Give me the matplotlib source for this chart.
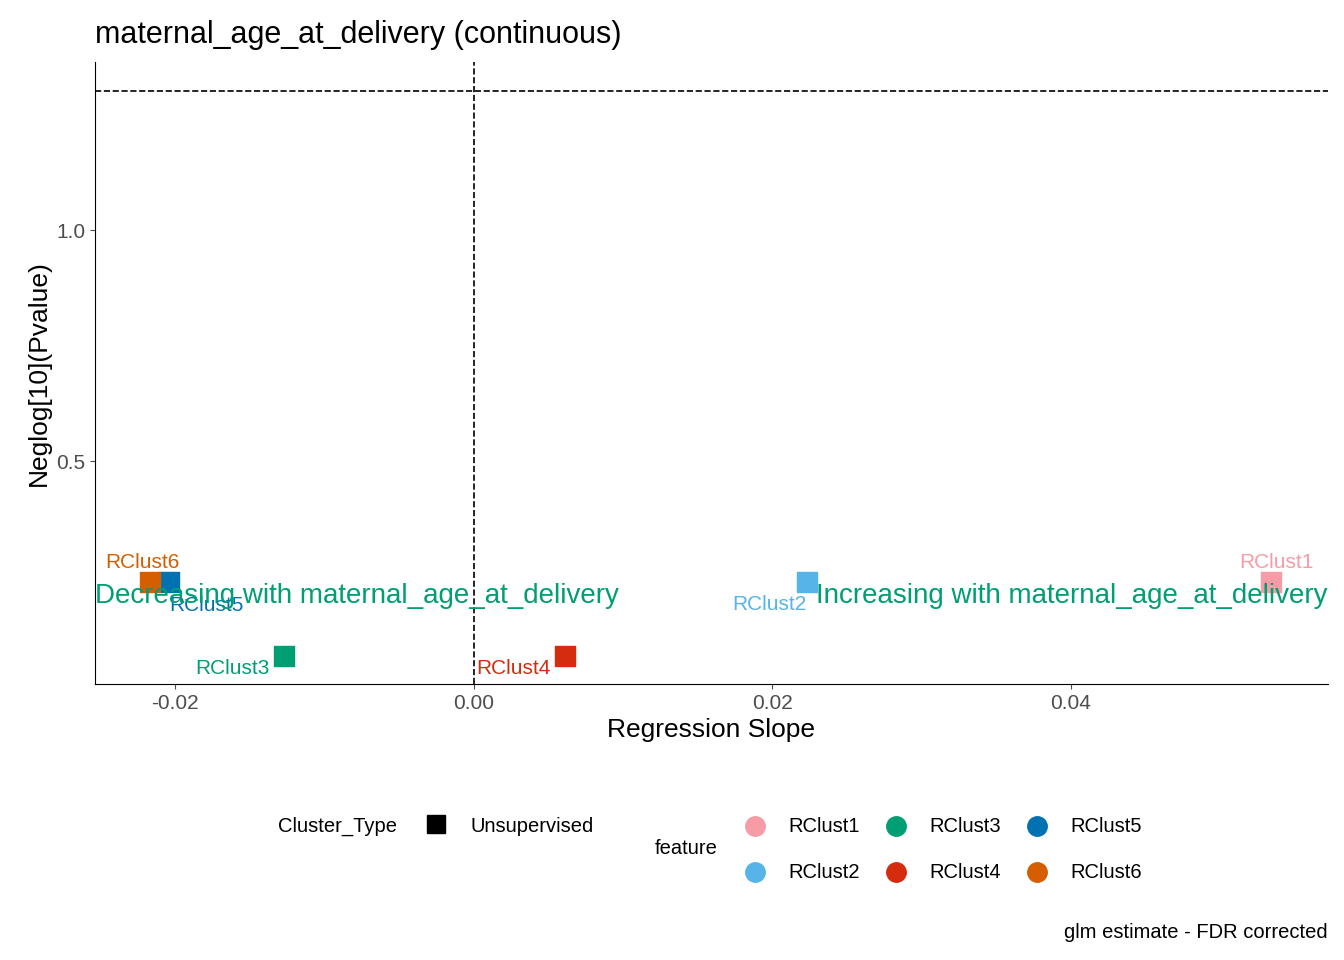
import matplotlib
matplotlib.use("Agg")
import matplotlib.pyplot as plt
from matplotlib.lines import Line2D

plt.rcParams['font.family'] = ['Liberation Sans', 'DejaVu Sans']

features = ["RClust1", "RClust2", "RClust3", "RClust4", "RClust5", "RClust6"]
slopes = [0.0534, 0.0223, -0.0127, 0.0061, -0.0204, -0.0217]
neglogp = [0.238, 0.238, 0.078, 0.078, 0.238, 0.238]
colors = ["#F79BA6", "#56B4E9", "#009E73", "#D52B0F", "#0072B2", "#D55E00"]
# label offsets in points (dx, dy, ha)
label_pos = [(4, 14, "center"), (0, -16, "right"), (-10, -9, "right"),
             (-10, -9, "right"), (0, -17, "left"), (-5, 14, "center")]

fig = plt.figure(figsize=(13.44, 9.6), dpi=100)
ax = fig.add_axes([0.0707, 0.2875, 0.9173, 0.6475])

for f, x, y, c, (dx, dy, ha) in zip(features, slopes, neglogp, colors, label_pos):
    ax.scatter(x, y, marker="s", s=190, color=c, zorder=3)
    ax.annotate(f, (x, y), xytext=(dx, dy), textcoords="offset points",
                color=c, fontsize=15, ha=ha, va="center")

ax.axhline(1.30103, color="black", linestyle="--", lw=1.2)
ax.axvline(0, color="black", linestyle="--", lw=1.2)

ax.set_xlim(-0.02535, 0.0572)
ax.set_ylim(0.017, 1.364)
ax.text(-0.02535, 0.208, "Decreasing with maternal_age_at_delivery",
        color="#009E73", fontsize=20, ha="left", va="center")
ax.text(0.0572, 0.208, "Increasing with maternal_age_at_delivery",
        color="#009E73", fontsize=20, ha="right", va="center")

ax.set_xticks([-0.02, 0.0, 0.02, 0.04])
ax.set_xticklabels(["-0.02", "0.00", "0.02", "0.04"])
ax.set_yticks([0.5, 1.0])
ax.set_yticklabels(["0.5", "1.0"])
ax.tick_params(labelsize=15, colors="#4D4D4D", labelcolor="#4D4D4D")
for s in ["top", "right"]:
    ax.spines[s].set_visible(False)
ax.set_xlabel("Regression Slope", fontsize=19)
ax.set_ylabel("Neglog[10](Pvalue)", fontsize=19)
ax.set_title("maternal_age_at_delivery (continuous)", fontsize=22, loc="left", pad=14)

# legends drawn manually
fig.text(278/1344, 1-826/960, "Cluster_Type", fontsize=14.5, va="center")
fig.add_artist(Line2D([436/1344], [1-824/960], marker="s", markersize=13,
                      color="black", transform=fig.transFigure))
fig.text(470/1344, 1-826/960, "Unsupervised", fontsize=14.5, va="center")
fig.text(655/1344, 1-849/960, "feature", fontsize=14.5, va="center")
for i, (f, c) in enumerate(zip(features, colors)):
    col, row = i // 2, i % 2
    x0 = 755 + col * 141
    y0 = 826 + row * 46
    fig.add_artist(Line2D([x0/1344], [1-y0/960], marker="o", markersize=14,
                          color=c, transform=fig.transFigure))
    fig.text((x0+33)/1344, 1-y0/960, f, fontsize=14.5, va="center")
fig.text(1328/1344, 1-933/960, "glm estimate - FDR corrected", fontsize=14.5,
         ha="right", va="center")

fig.savefig("out.png", dpi=100)
